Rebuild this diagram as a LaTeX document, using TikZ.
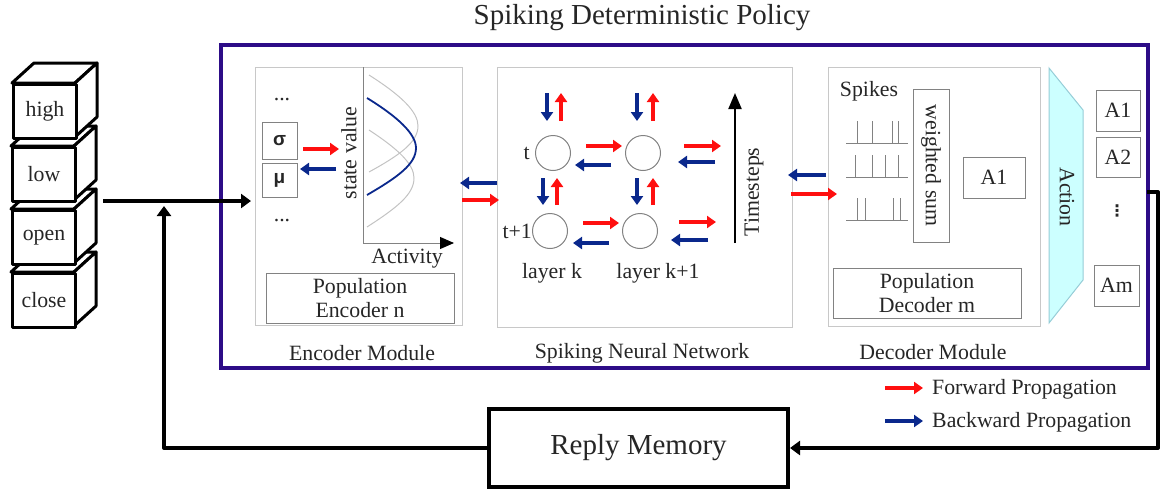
\documentclass[tikz,border=0pt]{standalone}
\usepackage{fontspec}
\setmainfont{Liberation Serif}
\setsansfont{Liberation Sans}
\usetikzlibrary{arrows.meta}
\definecolor{frameP}{RGB}{45,12,135}
\definecolor{boxG}{RGB}{200,200,200}
\definecolor{boxD}{RGB}{130,130,130}
\definecolor{fwd}{RGB}{255,15,15}
\definecolor{bwd}{RGB}{10,40,140}
\definecolor{actC}{RGB}{204,255,255}
\definecolor{actB}{RGB}{150,205,215}
\definecolor{curveG}{RGB}{195,195,195}
\newcommand{\mycube}[4]{%
  \draw[cubeline] (#1,#2) -- ++(22,-20) -- ++(63,0) -- ++(-22,20) -- cycle;
  \draw[cubeline] (#1+63,#2) -- ++(22,-20) -- ++(0,54) -- ++(-22,20) -- cycle;
  \node[cubeface, anchor=north west] (#4) at (#1,#2) {#3};
}
\begin{document}
\begin{tikzpicture}[x=1pt,y=-1pt,
  base/.style={font=\fontsize{21.8}{24}\selectfont, text=black!85},
  cubeline/.style={draw=black, line width=3pt, fill=white, line join=round},
  cubeface/.style={base, draw=black, line width=3pt, fill=white, line join=round,
                   minimum width=63pt, minimum height=54pt, inner sep=0pt},
  modbox/.style={draw=boxG, line width=1pt, inner sep=0pt},
  gbox/.style={base, draw=boxD, line width=1pt, inner sep=0pt, align=center},
  fa/.style={draw=fwd, line width=3.2pt, -{Triangle[length=9pt,width=12pt]}},
  ba/.style={draw=bwd, line width=3.2pt, -{Triangle[length=9pt,width=12pt]}},
  mainline/.style={draw=black, line width=4pt},
  maintip/.style={-{Triangle[length=10pt,width=14pt]}},
  neuron/.style={draw=boxD, line width=1pt, circle, minimum size=35pt, inner sep=0pt},
  lbl/.style={base, inner sep=0pt},
]
\useasboundingbox (0,0) rectangle (1162,493);

% title and outer frame
\node[font=\fontsize{29}{32}\selectfont, text=black!85] (title) at (642,18) {Spiking Deterministic Policy};
\node[draw=frameP, line width=4pt, minimum width=927pt, minimum height=323pt, inner sep=0pt] (policy) at (684,206.5) {};

% input cubes
\mycube{11}{272}{close}{cclose}
\mycube{11}{209}{open}{copen}
\mycube{11}{146}{low}{clow}
\mycube{12}{83}{high}{chigh}

% module boxes
\node[modbox, minimum width=207pt, minimum height=258pt] (enc) at (358.5,196) {};
\node[modbox, minimum width=295pt, minimum height=260pt] (snn) at (644.5,197) {};
\node[modbox, minimum width=212pt, minimum height=259pt] (dec) at (934,196.5) {};
\node[lbl] (encl) at (362,353) {Encoder Module};
\node[lbl] (snnl) at (642,353) {Spiking Neural Network};
\node[lbl] (decl) at (933,352) {Decoder Module};

% ---------------- encoder ----------------
\node[lbl] (dots1) at (282,100) {...};
\node[lbl] (dots2) at (282,221) {...};
\node[gbox, minimum width=35pt, minimum height=37pt, font=\sffamily\bfseries\fontsize{19}{21}\selectfont] (sigma) at (279.5,141) {σ};
\node[gbox, minimum width=35pt, minimum height=34pt, font=\sffamily\bfseries\fontsize{19}{21}\selectfont] (mu) at (279.5,180) {μ};
\coordinate (sr1) at (303,149); \coordinate (sr2) at (339,149);
\coordinate (sb1) at (336,169); \coordinate (sb2) at (300,169);
\draw[fa] (sr1) -- (sr2);
\draw[ba] (sb1) -- (sb2);
% axes
\coordinate (ax0) at (363,243);
\coordinate (axt) at (363,67);
\coordinate (axr) at (454,243);
\draw[boxD, line width=1pt] (axt) -- (ax0);
\draw[boxD, line width=1pt, -{Triangle[length=14pt,width=12pt,black]}] (ax0) -- (axr);
\node[lbl, rotate=90] (sv) at (349,153) {state value};
\node[lbl] (act) at (407,259) {Activity};
% tuning curves
\draw[curveG, line width=1pt] (369,75) .. controls (402,96) and (418,112) .. (418,126) .. controls (418,142) and (400,155) .. (369,172);
\draw[curveG, line width=1pt] (369,130) .. controls (398,149) and (414,164) .. (414,178) .. controls (414,194) and (398,207) .. (367,227);
\draw[bwd, line width=1.8pt] (367,98) .. controls (398,117) and (416,134) .. (416,148) .. controls (416,164) and (398,177) .. (367,195);
\node[gbox, minimum width=188pt, minimum height=50pt, align=center, font=\fontsize{21.8}{24}\selectfont] (penc) at (360,298) {Population\\Encoder n};

% enc <-> snn arrows
\coordinate (es1) at (497,183); \coordinate (es2) at (460,183);
\coordinate (es3) at (462,200); \coordinate (es4) at (499,200);
\draw[ba] (es1) -- (es2);
\draw[fa] (es3) -- (es4);

% ---------------- SNN ----------------
\node[neuron] (n11) at (553,153) {};
\node[neuron] (n12) at (643,153) {};
\node[neuron] (n21) at (550,231) {};
\node[neuron] (n22) at (640,231) {};
\node[lbl, anchor=east, xshift=-5pt] (tl) at (n11.west) {t};
\node[lbl, anchor=east] (t1l) at (n21.west) {t+1};
\node[lbl] (lk) at (552,273) {layer k};
\node[lbl] (lk1) at (658,273) {layer k+1};
% vertical pairs
\foreach \bx/\rx/\ya/\yb in {547/561/93/121, 637/653/93/121, 543/557/178/205, 637/653/178/205}{
  \draw[ba] (\bx,\ya) -- (\bx,\yb);
  \draw[fa] (\rx,\yb) -- (\rx,\ya);
}
% horizontal pairs
\draw[fa] (n11.east) ++(15,-7) coordinate (h1a) -- ++(36,0);
\draw[ba] (n12.west) ++(-14,12) coordinate (h1b) -- ++(-36,0);
\draw[fa] (n21.east) ++(15,-8) coordinate (h2a) -- ++(36,0);
\draw[ba] (n22.west) ++(-13,12) coordinate (h2b) -- ++(-36,0);
\draw[fa] (n12.east) ++(23,-7) coordinate (h3a) -- ++(37,0);
\draw[ba] (n12.east) ++(54,9) coordinate (h3b) -- ++(-37,0);
\draw[fa] (n22.east) ++(21,-9) coordinate (h4a) -- ++(37,0);
\draw[ba] (n22.east) ++(50,9) coordinate (h4b) -- ++(-37,0);
% timesteps
\coordinate (ts0) at (735,243); \coordinate (ts1) at (735,93);
\draw[black, line width=2pt, -{Triangle[length=16pt,width=13pt]}] (ts0) -- (ts1);
\node[lbl, rotate=90] (tsl) at (754,192) {Timesteps};

% snn <-> dec arrows
\coordinate (sd1) at (826,175); \coordinate (sd2) at (788,175);
\coordinate (sd3) at (791,194); \coordinate (sd4) at (837,194);
\draw[ba] (sd1) -- (sd2);
\draw[fa] (sd3) -- (sd4);

% ---------------- decoder ----------------
\node[lbl] (spk) at (869,91) {Spikes};
\node[gbox, minimum width=36pt, minimum height=153pt] (ws) at (931,165.5) {};
\node[lbl, rotate=-90] (wsl) at (ws.center) {weighted sum};
\foreach \yb/\xs in {143/{857,872,892,898}, 177/{855,872,885,898}, 220/{857,865,893,900}}{
  \draw[boxD, line width=0.9pt] (846,\yb) -- (908,\yb);
  \foreach \x in \xs { \draw[boxD, line width=0.9pt] (\x,\yb) -- (\x,\yb-22); }
}
\node[gbox, minimum width=62pt, minimum height=41pt] (a1m) at (994,177.5) {A1};
\node[gbox, minimum width=188pt, minimum height=50pt, font=\fontsize{21.8}{24}\selectfont] (pdec) at (927,293) {Population\\Decoder m};
% action trapezoid
\draw[draw=actB, fill=actC, line width=1pt] (1049,68) -- (1083,110) -- (1083,280) -- (1049,323) -- cycle;
\node[lbl, rotate=-90] (actl) at (1067,197) {Action};
\node[gbox, minimum width=44pt, minimum height=41pt] (oa1) at (1118,110.5) {A1};
\node[gbox, minimum width=44pt, minimum height=40pt] (oa2) at (1118,157) {A2};
\node[lbl] (odots) at (1117,211) {\fontspec{DejaVu Sans}\fontsize{16}{18}\selectfont\bfseries ⋮};
\node[gbox, minimum width=45pt, minimum height=41pt] (oam) at (1116.5,285.5) {Am};

% legend
\coordinate (lg1) at (885,388); \coordinate (lg2) at (923,388);
\coordinate (lg3) at (885,421); \coordinate (lg4) at (923,421);
\draw[fa] (lg1) -- (lg2);
\draw[ba] (lg3) -- (lg4);
\node[lbl, anchor=west] (lgf) at (932,389) {Forward Propagation};
\node[lbl, anchor=west] (lgb) at (932,422) {Backward Propagation};

% replay memory and main flow
\node[draw=black, line width=4pt, minimum width=299pt, minimum height=78pt, inner sep=0pt,
      font=\fontsize{29}{32}\selectfont, text=black!85] (rm) at (638.5,448) {Reply Memory};
\coordinate (in0) at (103,201);
\coordinate (in1) at (251,201);
\draw[mainline, maintip] (in0) -- (in1);
\coordinate (o0) at (1147,192);
\coordinate (o1) at (1158,192);
\coordinate (o2) at (1158,448);
\draw[mainline, maintip, line join=round] (o0) -- (o1) -- (o2) -- (rm.east);
\coordinate (b1) at (164,448);
\coordinate (b2) at (164,206);
\draw[mainline, maintip, line join=round] (rm.west) -- (b1) -- (b2);
\end{tikzpicture}
\end{document}
